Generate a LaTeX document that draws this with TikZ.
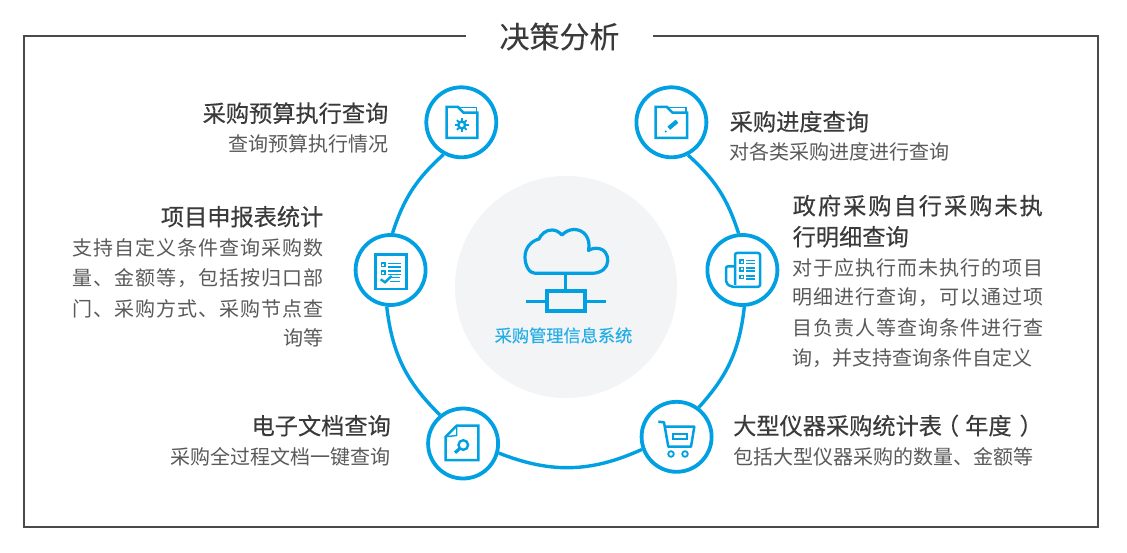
\documentclass[tikz,border=0pt]{standalone}
\usepackage{fontspec}
\setmainfont{Noto Sans CJK SC}
\usetikzlibrary{shapes.geometric}
\definecolor{hub}{HTML}{00A0E3}
\definecolor{headc}{HTML}{3A3A3A}
\definecolor{bodyc}{HTML}{5A5A5A}
\definecolor{disk}{HTML}{F3F4F6}
\definecolor{framec}{HTML}{4A4A4A}
\newcommand{\headfont}{\fontsize{23.2}{27}\selectfont\addfontfeature{FakeBold=0.35}}
\tikzset{
  headl/.style={anchor=base west,inner sep=0pt,text=headc,font=\headfont},
  headr/.style={anchor=base east,inner sep=0pt,text=headc,font=\headfont},
  subl/.style={anchor=base west,inner sep=0pt,text=bodyc,font=\fontsize{20}{24}\selectfont},
  subr/.style={anchor=base east,inner sep=0pt,text=bodyc,font=\fontsize{20}{24}\selectfont},
  hubnode/.style={circle,draw=hub,line width=3.8pt,fill=white,minimum size=70pt,inner sep=0pt},
  ringlink/.style={draw=hub,line width=3.4pt},
  ico/.style={draw=hub,line width=2.5pt,line join=miter},
  icothin/.style={draw=hub,line width=1.6pt},
  icodot/.style={draw=hub,line width=1.4pt}
}
\begin{document}
\begin{tikzpicture}[x=1pt,y=1pt]
\useasboundingbox (0,0) rectangle (1127,-553);
\fill[white] (0,0) rectangle (1127,-553);
% frame and title
\draw[framec,line width=1.5pt] (24,-36) rectangle (1098,-527);
\node[fill=white,minimum width=187pt,minimum height=20pt,inner sep=0pt] (titlegap) at (559.5,-36) {};
\node[anchor=base,inner sep=0pt,text=headc,font=\fontsize{30}{34}\selectfont\addfontfeature{FakeBold=0.25}] (title) at (559.5,-48) {决策分析};
% centre disk
\node[circle,fill=disk,minimum size=222pt,inner sep=0pt] (centre) at (566,-287) {};
% hubs
\node[hubnode] (a) at (461.3,-122.3) {};
\node[hubnode] (b) at (390.6,-270) {};
\node[hubnode] (c) at (671.4,-122.3) {};
\node[hubnode] (d) at (742.4,-270) {};
\node[hubnode] (e) at (463.1,-443.5) {};
\node[hubnode] (f) at (676.6,-436.8) {};
% connectors
\draw[ringlink] (a.241) to[bend right=15] (b.87);
\draw[ringlink] (b.264) to[bend right=19.5] (e.129);
\draw[ringlink] (e.345) to[bend right=23] (f.200);
\draw[ringlink] (f.53) to[bend right=18] (d.273);
\draw[ringlink] (d.96) to[bend right=15] (c.297);
% cloud icon
\draw[hub,line width=3.2pt,line join=round]
 (535,-273.3) .. controls (529,-273.3) and (525,-265) .. (525,-257)
 .. controls (525,-248) and (531,-241) .. (539,-239)
 .. controls (541,-234) and (546,-230) .. (552,-230)
 .. controls (556,-230) and (559,-232) .. (562,-235)
 .. controls (565,-232) and (569,-229.5) .. (574,-229.5)
 .. controls (584,-229.5) and (591,-238) .. (588.5,-250.5)
 .. controls (592,-247.5) and (607.7,-245) .. (607.7,-261)
 .. controls (607.7,-268) and (601,-273.3) .. (592,-273.3) -- cycle;
\draw[hub,line width=3.2pt] (565.5,-273.3) -- (565.5,-291);
\draw[hub,line width=3.2pt] (547,-291) rectangle (585,-311);
\draw[hub,line width=3.2pt] (526,-301.3) -- (547,-301.3) (585,-301.3) -- (606,-301.3);
\node[anchor=base,inner sep=0pt,text=hub!85!white,font=\fontsize{17.2}{20}\selectfont\addfontfeature{FakeBold=0.4}] (sys) at (563.5,-342) {采购管理信息系统};
% folder gear
\draw[ico] (446.5,-107) -- (458,-107) -- (463.5,-112.7) -- (477.3,-112.7) -- (477.3,-138) -- (446.5,-138) -- cycle;
\draw[hub,line width=1.4pt] (458,-107.5) -- (476.5,-107.5) -- (476.5,-112);
\draw[hub,line width=2.4pt] (461.7,-125) circle (3.4pt);
\foreach \t in {0,45,...,315}
  \draw[hub,line width=2pt] (461.7,-125) ++(\t:4.2pt) -- ++(\t:2.6pt);
% folder pencil
\draw[ico] (655.5,-107) -- (667,-107) -- (672.5,-112.7) -- (687,-112.7) -- (687,-138) -- (655.5,-138) -- cycle;
\draw[hub,line width=1.4pt] (667,-107.5) -- (686,-107.5) -- (686,-112);
\draw[hub,line width=4.2pt] (668.8,-128.2) -- (677,-121.3);
\fill[hub] (665.7,-131.5) circle (1.1pt);
% check list
\draw[ico] (375.5,-254.5) rectangle (406.3,-289);
\draw[icodot] (381.7,-263.2) rectangle (385,-266.7);
\draw[icodot] (381.7,-271) rectangle (385,-274.5);
\draw[icothin] (387.7,-263.7) -- (401,-263.7) (387.7,-266.9) -- (401,-266.9)
  (387.7,-271.3) -- (401,-271.3) (387.7,-274.7) -- (401,-274.7)
  (391.7,-277.7) -- (400,-277.7) (390,-281.7) -- (400,-281.7);
\draw[hub,line width=2.4pt] (380.7,-279.3) -- (385,-282.3) -- (391.7,-276);
% newspaper
\draw[hub,line width=2.5pt,rounded corners=2pt] (735,-285) -- (735,-253) -- (760,-253) -- (760,-286.8) -- (731,-286.8) -- (726,-283) -- (726,-266.3) -- (735,-266.3);
\foreach \y in {261.7,269.3,277}{
  \draw[icodot] (740,-\y+1.7) rectangle (743.4,-\y-1.7);
  \draw[icothin] (746,-\y+1) -- (755,-\y+1) (746,-\y-1.8) -- (755,-\y-1.8);
}
% doc search
\draw[ico] (456.7,-425.7) -- (478.3,-425.7) -- (478.3,-460) -- (445.7,-460) -- (445.7,-436.7) -- cycle;
\draw[hub,line width=1.4pt] (456.7,-426) -- (456.7,-435.5) -- (446,-436.7);
\draw[hub,line width=2.4pt] (463.3,-445) circle (4.8pt);
\draw[hub,line width=3.2pt] (459.8,-448.5) -- (455,-452.7);
% cart
\draw[hub,line width=2.5pt,line join=round] (658.3,-421.7) -- (664,-422.3) -- (668.3,-446.7) -- (691,-446.7) -- (694.3,-426.7) -- (665,-426.7);
\draw[hub,line width=1.8pt] (672.7,-434.3) rectangle (687.3,-438.7);
\draw[hub,line width=1.8pt] (671,-454) circle (2.8pt);
\draw[hub,line width=1.8pt] (685,-454) circle (2.8pt);
% texts left
\node[headr] (t1) at (388.5,-122) {采购预算执行查询};
\node[subr] (s1) at (388.5,-152) {查询预算执行情况};
\node[headr] (t2) at (323.5,-225.5) {项目申报表统计};
\node[subr] (s21) at (323.5,-255.5) {\addfontfeature{LetterSpace=5}支持自定义条件查询采购数};
\node[subr] (s22) at (323.5,-285.5) {\addfontfeature{LetterSpace=5}量、金额等，包括按归口部};
\node[subr] (s23) at (323.5,-316.5) {\addfontfeature{LetterSpace=5}门、采购方式、采购节点查};
\node[subr] (s24) at (323.5,-345.5) {询等};
\node[headr] (t5) at (391,-434.5) {电子文档查询};
\node[subr] (s5) at (391,-464.5) {采购全过程文档一键查询};
% texts right
\node[headl] (t3) at (729.5,-130.5) {采购进度查询};
\node[subl] (s3) at (729.5,-159.5) {对各类采购进度进行查询};
\node[headl] (t4) at (792.5,-214.5) {\addfontfeature{LetterSpace=8.7}政府采购自行采购未执};
\node[headl] (t42) at (792.5,-245.5) {行明细查询};
\node[subl] (s41) at (792.5,-275.5) {\addfontfeature{LetterSpace=5}对于应执行而未执行的项目};
\node[subl] (s42) at (792.5,-304.5) {\addfontfeature{LetterSpace=5}明细进行查询，可以通过项};
\node[subl] (s43) at (792.5,-335.5) {\addfontfeature{LetterSpace=5}目负责人等查询条件进行查};
\node[subl] (s44) at (792.5,-365.5) {询，并支持查询条件自定义};
\node[headl] (t6) at (733,-434.5) {大型仪器采购统计表\kern-6pt（\kern6pt 年度\kern8pt ）};
\node[subl] (s6) at (733,-464.5) {包括大型仪器采购的数量、金额等};
\end{tikzpicture}
\end{document}
